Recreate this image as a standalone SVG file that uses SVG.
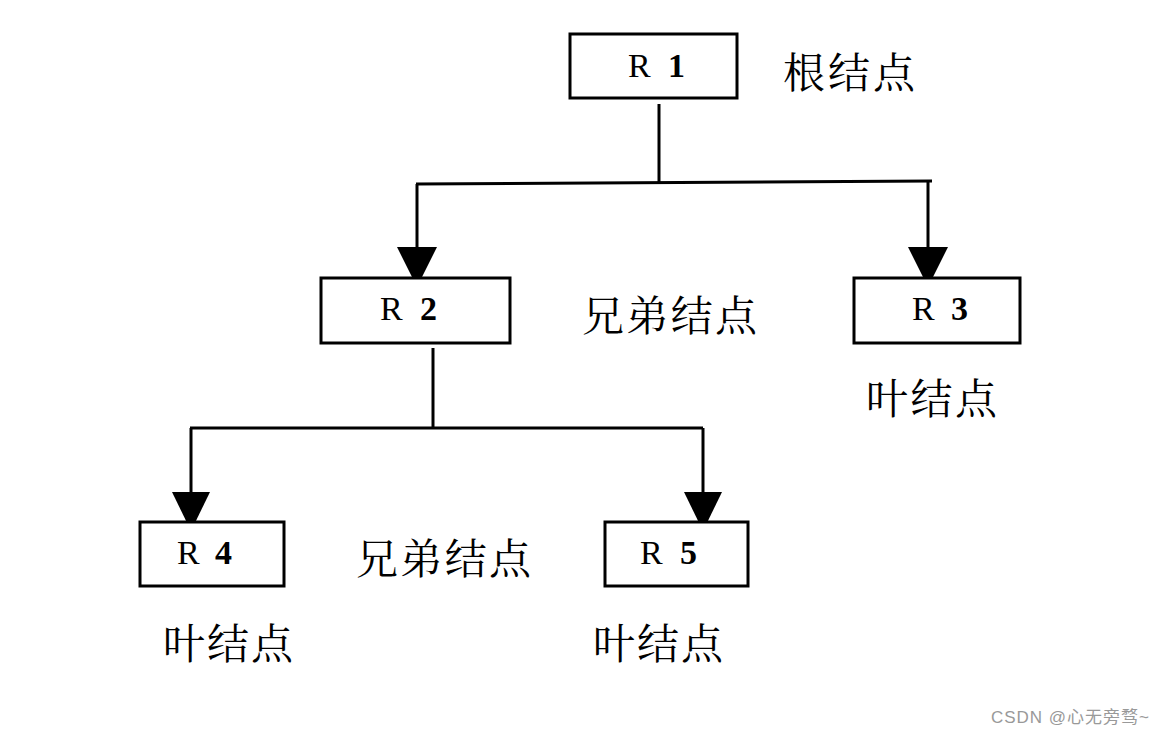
<svg xmlns="http://www.w3.org/2000/svg" width="1164" height="735" viewBox="0 0 1164 735">
<style>
.box{fill:#fff;stroke:#000;stroke-width:3}
.ln{fill:none;stroke:#000;stroke-width:3}
.r{font-family:"Liberation Serif","Times New Roman",serif;font-size:34px;fill:#000}
.d{font-weight:bold}
.cn{font-family:"Noto Serif CJK SC","Noto Sans CJK SC",serif;font-size:42px;fill:#000}
.wm{font-family:"Liberation Sans","Noto Sans CJK SC",sans-serif;font-size:17px;fill:#999}
</style>
<rect width="1164" height="735" fill="#fff"/>
<g id="connectors">
<path class="ln" d="M659,104 V182"/>
<path class="ln" d="M416,184 L932,181"/>
<path class="ln" d="M417,184 V249"/>
<path d="M397,247 L437,247 L417,287 Z" fill="#000"/>
<path class="ln" d="M928,181 V249"/>
<path d="M908,247 L948,247 L928,287 Z" fill="#000"/>
<path class="ln" d="M433,348 V428"/>
<path class="ln" d="M190,428 H703"/>
<path class="ln" d="M191,428 V494"/>
<path d="M172,492 L210,492 L191,531 Z" fill="#000"/>
<path class="ln" d="M703,428 V494"/>
<path d="M684,492 L722,492 L703,531 Z" fill="#000"/>
</g>
<g id="R1">
<rect class="box" x="570" y="34" width="167" height="64"/>
<text class="r" x="628" y="77">R</text><text class="r d" x="668" y="77">1</text>
</g>
<g id="R2">
<rect class="box" x="321" y="278" width="189" height="65"/>
<text class="r" x="380" y="320">R</text><text class="r d" x="420" y="320">2</text>
</g>
<g id="R3">
<rect class="box" x="854" y="278" width="166" height="65"/>
<text class="r" x="912" y="320">R</text><text class="r d" x="951" y="320">3</text>
</g>
<g id="R4">
<rect class="box" x="140" y="522" width="144" height="64"/>
<text class="r" x="177" y="564">R</text><text class="r d" x="215" y="564">4</text>
</g>
<g id="R5">
<rect class="box" x="605" y="522" width="143" height="64"/>
<text class="r" x="640" y="564">R</text><text class="r d" x="680" y="564">5</text>
</g>
<g id="labels">
<text class="cn" x="783" y="88" textLength="132">根结点</text>
<text class="cn" x="582" y="331" textLength="175">兄弟结点</text>
<text class="cn" x="866" y="414" textLength="131">叶结点</text>
<text class="cn" x="356" y="574" textLength="175">兄弟结点</text>
<text class="cn" x="163" y="659" textLength="130">叶结点</text>
<text class="cn" x="593" y="659" textLength="130">叶结点</text>
<text class="wm" x="991" y="723" textLength="158">CSDN @心无旁骛~</text>
</g>
</svg>
